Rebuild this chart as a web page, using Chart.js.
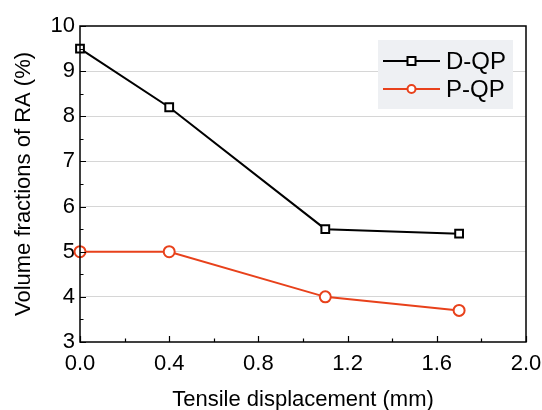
<!DOCTYPE html>
<html><head><meta charset="utf-8">
<script src="https://cdn.jsdelivr.net/npm/chart.js@4/dist/chart.umd.min.js"></script>
<style>html,body{margin:0;padding:0;background:#fff}#w{width:542px;height:410px}</style>
</head><body><div id="w"><canvas id="c" width="542" height="410"></canvas></div>
<script>
const dqpX = [0, 0.4, 1.1, 1.7];
const dqpY = [9.5, 8.2, 5.5, 5.4];
const pqpX = [0, 0.4, 1.1, 1.7];
const pqpY = [5.0, 5.0, 4.0, 3.7];
const xTicks = [0, 0.4, 0.8, 1.2, 1.6, 2.0];
const yTicks = [3, 4, 5, 6, 7, 8, 9, 10];
const seriesNames = ['D-QP', 'P-QP'];
const FONT = 'Liberation Sans, Arial, sans-serif';

const frame = {
  id: 'frame',
  afterDatasetsDraw(chart) {
    const {ctx, chartArea: a, scales: {x, y}} = chart;
    ctx.save();
    ctx.strokeStyle = '#000'; ctx.lineWidth = 1.5;
    ctx.strokeRect(a.left, a.top, a.right - a.left, a.bottom - a.top);
    ctx.lineWidth = 1.2;
    ctx.beginPath();
    for (let v = 0; v <= 2.0001; v += 0.2) {
      const px = Math.round(x.getPixelForValue(v)) + 0.5;
      const major = Math.abs(v / 0.4 - Math.round(v / 0.4)) < 1e-6;
      const L = major ? 6 : 3.5;
      ctx.moveTo(px, a.bottom); ctx.lineTo(px, a.bottom - L);
    }
    for (let v = 3; v <= 10.0001; v += 0.5) {
      const py = Math.round(y.getPixelForValue(v)) + 0.5;
      const major = Math.abs(v - Math.round(v)) < 1e-6;
      const L = major ? 6 : 3.5;
      ctx.moveTo(a.left, py); ctx.lineTo(a.left + L, py);
    }
    ctx.stroke();
    // legend
    const bx = 378, by = 40, bw = 135, bh = 69;
    ctx.fillStyle = '#eef0f3';
    ctx.fillRect(bx, by, bw, bh);
    const rows = [61, 89];
    chart.data.datasets.forEach((ds, i) => {
      const ry = rows[i];
      ctx.strokeStyle = ds.borderColor; ctx.lineWidth = 2;
      ctx.beginPath(); ctx.moveTo(383, ry); ctx.lineTo(440, ry); ctx.stroke();
      ctx.fillStyle = '#fff'; ctx.lineWidth = 2;
      if (ds.pointStyle === 'rect') {
        ctx.fillRect(407.5, ry - 4, 8, 8); ctx.strokeRect(407.5, ry - 4, 8, 8);
      } else {
        ctx.beginPath(); ctx.arc(411.5, ry, 4, 0, Math.PI * 2); ctx.fill(); ctx.stroke();
      }
      ctx.fillStyle = '#000'; ctx.font = '24px ' + FONT;
      ctx.textBaseline = 'middle'; ctx.textAlign = 'left';
      ctx.fillText(ds.label, 446, ry + 1);
    });
    ctx.restore();
  }
};

new Chart(document.getElementById('c'), {
  type: 'scatter',
  data: {
    datasets: [
      { label: seriesNames[0], data: dqpX.map((v, i) => ({x: v, y: dqpY[i]})), showLine: true,
        borderColor: '#000', backgroundColor: '#fff', borderWidth: 2, pointStyle: 'rect',
        pointRadius: 5.5, pointBorderWidth: 2, clip: false },
      { label: seriesNames[1], data: pqpX.map((v, i) => ({x: v, y: pqpY[i]})), showLine: true,
        borderColor: '#e8411b', backgroundColor: '#fff', borderWidth: 2, pointStyle: 'circle',
        pointRadius: 5.5, pointBorderWidth: 2, clip: false }
    ]
  },
  options: {
    responsive: false, animation: false,
    layout: { padding: { top: 26, right: 16, left: 0, bottom: 0 } },
    plugins: { legend: { display: false }, tooltip: { enabled: false } },
    scales: {
      x: {
        type: 'linear', min: 0, max: 2.0,
        afterBuildTicks: s => { s.ticks = xTicks.map(v => ({value: v})); },
        afterFit: s => { s.height = 68; s.paddingLeft = 0; s.paddingRight = 0; },
        border: { display: false },
        grid: { display: false, drawTicks: false },
        ticks: { color: '#000', font: { family: FONT, size: 22 }, padding: 9, maxRotation: 0,
          callback: v => Number(v).toFixed(1) },
        title: { display: true, text: 'Tensile displacement (mm)', color: '#000',
          font: { family: FONT, size: 22 }, padding: { top: 16, bottom: -3 } }
      },
      y: {
        type: 'linear', min: 3, max: 10,
        afterBuildTicks: s => { s.ticks = yTicks.map(v => ({value: v})); },
        afterFit: s => { s.width = 80; s.paddingTop = 0; s.paddingBottom = 0; },
        border: { display: false },
        grid: { drawTicks: false, color: c => (c.tick && (c.tick.value === 3 || c.tick.value === 10)) ? 'rgba(0,0,0,0)' : '#d6d6d6', lineWidth: 1 },
        ticks: { color: '#000', font: { family: FONT, size: 22 }, padding: 5 },
        title: { display: true, text: 'Volume fractions of RA (%)', color: '#000',
          font: { family: FONT, size: 22 }, padding: { top: 11, bottom: 4 } }
      }
    }
  },
  plugins: [frame]
});
</script></body></html>
